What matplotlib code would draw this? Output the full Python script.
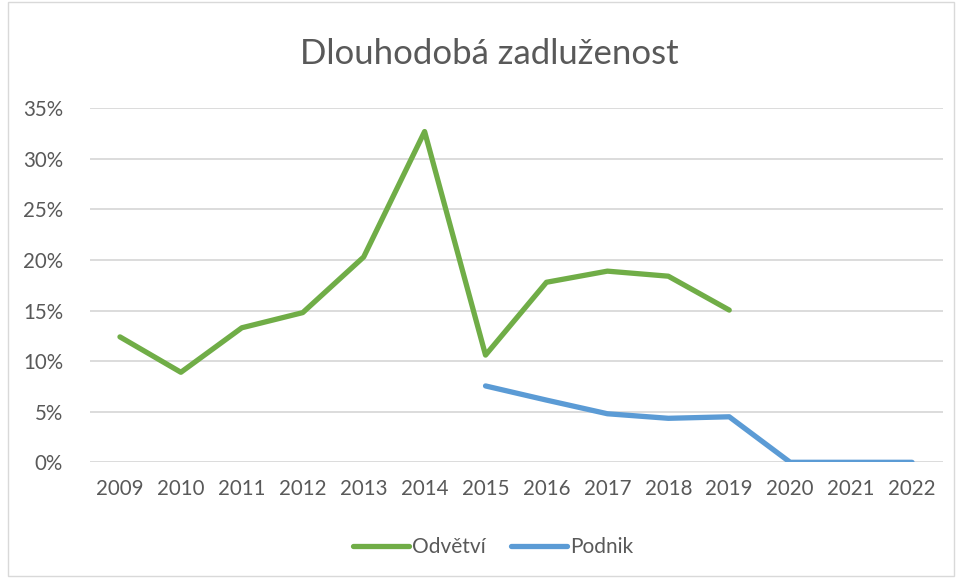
import matplotlib.pyplot as plt
from matplotlib.patches import Rectangle
from matplotlib.ticker import FuncFormatter

years = ['2009', '2010', '2011', '2012', '2013', '2014', '2015',
         '2016', '2017', '2018', '2019', '2020', '2021', '2022']
odvetvi = [12.4, 8.9, 13.3, 14.8, 20.3, 32.7, 10.6, 17.8, 18.9, 18.4, 15.05,
           None, None, None]
podnik = [None, None, None, None, None, None, 7.55, 6.15, 4.8, 4.35, 4.5,
          0.0, 0.0, 0.0]
y_ticks = [0, 5, 10, 15, 20, 25, 30, 35]

text_color = '#595959'
plt.rcParams['font.family'] = ['Lato', 'DejaVu Sans']

fig = plt.figure(figsize=(9.57, 5.78), dpi=100)
ax = fig.add_axes([89.5 / 957, 1 - 462.3 / 578, 853 / 957, 354 / 578])

x = list(range(len(years)))
g = [(i, v) for i, v in zip(x, odvetvi) if v is not None]
b = [(i, v) for i, v in zip(x, podnik) if v is not None]
ax.plot([p[0] for p in g], [p[1] for p in g], color='#70AD47', lw=3.8,
        solid_capstyle='round', solid_joinstyle='round', label='Odvětví', zorder=3)
ax.plot([p[0] for p in b], [p[1] for p in b], color='#5B9BD5', lw=3.8,
        solid_capstyle='round', solid_joinstyle='round', label='Podnik', zorder=3)

ax.set_xlim(-0.5, len(years) - 0.5)
ax.set_ylim(0, 35)
ax.set_yticks(y_ticks)
ax.yaxis.set_major_formatter(FuncFormatter(lambda v, _: f'{v:.0f}%'))
ax.set_xticks(x)
ax.set_xticklabels(years)
ax.grid(axis='y', color='#D9D9D9', lw=1.3, zorder=0)
for s in ax.spines.values():
    s.set_visible(False)
ax.tick_params(length=0, labelsize=14.8, colors=text_color, pad=12)
ax.tick_params(axis='y', pad=19)

fig.text(489 / 957, 1 - 54 / 578, 'Dlouhodobá zadluženost', ha='center', va='center',
         fontsize=25, color=text_color)
fig.legend(loc='center', bbox_to_anchor=(493 / 957, 1 - 547 / 578), ncol=2, frameon=False,
           fontsize=15, labelcolor=text_color, handlelength=2.7, columnspacing=1.2,
           handletextpad=0.15)

fig.patches.append(Rectangle((8 / 957, 2 / 578), 946 / 957, 574 / 578, transform=fig.transFigure,
                             fill=False, edgecolor='#D9D9D9', lw=1))

fig.savefig('out.png', dpi=100)
